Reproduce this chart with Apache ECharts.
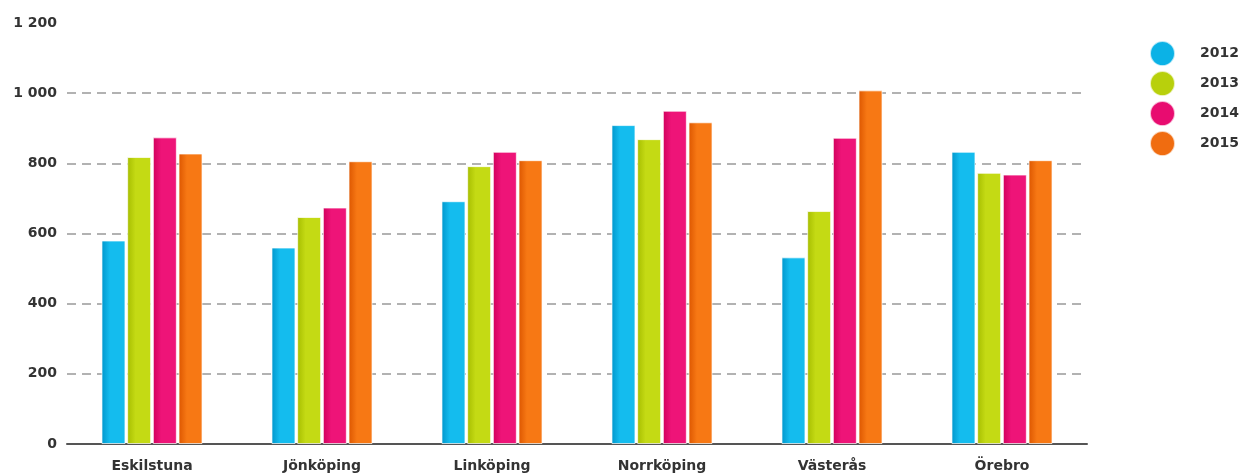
<!DOCTYPE html>
<html>
<head>
<meta charset="utf-8">
<script src="https://cdn.jsdelivr.net/npm/echarts@6/dist/echarts.min.js"></script>
<style>
html,body{margin:0;padding:0;background:#fff;}
#chart{width:1240px;height:474px;}
</style>
</head>
<body>
<div id="chart"></div>
<script>
const categories = ['Eskilstuna', 'Jönköping', 'Linköping', 'Norrköping', 'Västerås', 'Örebro'];
const years = ['2012', '2013', '2014', '2015'];
const values2012 = [580, 560, 692, 909, 532, 833];
const values2013 = [818, 647, 792, 869, 664, 773];
const values2014 = [874, 674, 833, 950, 873, 768];
const values2015 = [828, 806, 809, 917, 1008, 809];
const yTicks = [0, 200, 400, 600, 800, 1000, 1200];

const seriesValues = [values2012, values2013, values2014, values2015];
const colorPairs = [
  ['#0096cc', '#14bcee'],
  ['#a6bd00', '#c4da14'],
  ['#d0005c', '#ee1478'],
  ['#dc5600', '#f77814']
];
const legendColors = ['#0bb2e6', '#b8d00c', '#e80c70', '#f06c10'];

function grad(c) {
  return new echarts.graphic.LinearGradient(0, 0, 1, 0, [
    {offset: 0, color: c[0]},
    {offset: 0.35, color: c[1]},
    {offset: 1, color: c[1]}
  ]);
}

const chart = echarts.init(document.getElementById('chart'), null, {renderer: 'canvas'});
const fontFamily = 'DejaVu Sans, Verdana, sans-serif';

chart.setOption({
  animation: false,
  backgroundColor: '#fff',
  textStyle: {fontFamily: fontFamily},
  legend: {
    orient: 'vertical',
    left: 1144,
    top: 35,
    icon: 'circle',
    itemWidth: 25,
    itemHeight: 25,
    itemGap: 3,
    textStyle: {color: '#333', fontSize: 14, fontWeight: 'bold', fontFamily: fontFamily, padding: [0, 0, 0, 20]},
    data: years.map((y, i) => ({name: y, itemStyle: {color: legendColors[i]}}))
  },
  grid: {left: 67, right: 153, top: 23, bottom: 30, containLabel: false},
  xAxis: {
    type: 'category',
    data: categories,
    boundaryGap: true,
    axisLine: {lineStyle: {color: '#555', width: 2}},
    axisTick: {alignWithLabel: true, length: 5, lineStyle: {color: '#555', width: 1.5}},
    axisLabel: {color: '#333', fontSize: 14, fontWeight: 'bold', margin: 15, fontFamily: fontFamily}
  },
  yAxis: {
    type: 'value',
    min: yTicks[0],
    max: yTicks[yTicks.length - 1],
    interval: 200,
    axisLine: {show: false},
    axisTick: {show: false},
    axisLabel: {
      color: '#333', fontSize: 14, fontWeight: 'bold', margin: 10, fontFamily: fontFamily,
      formatter: v => String(v).replace(/\B(?=(\d{3})+(?!\d))/g, ' ')
    },
    splitLine: {
      show: true,
      showMinLine: false,
      showMaxLine: false,
      lineStyle: {color: '#999', type: [9, 6], width: 1.5}
    }
  },
  series: years.map((y, i) => ({
    name: y,
    type: 'bar',
    data: seriesValues[i],
    barWidth: 24,
    barGap: '7%',
    itemStyle: {
      color: grad(colorPairs[i]),
      borderColor: 'rgba(255,255,255,0.7)',
      borderWidth: 1
    }
  }))
});
</script>
</body>
</html>
